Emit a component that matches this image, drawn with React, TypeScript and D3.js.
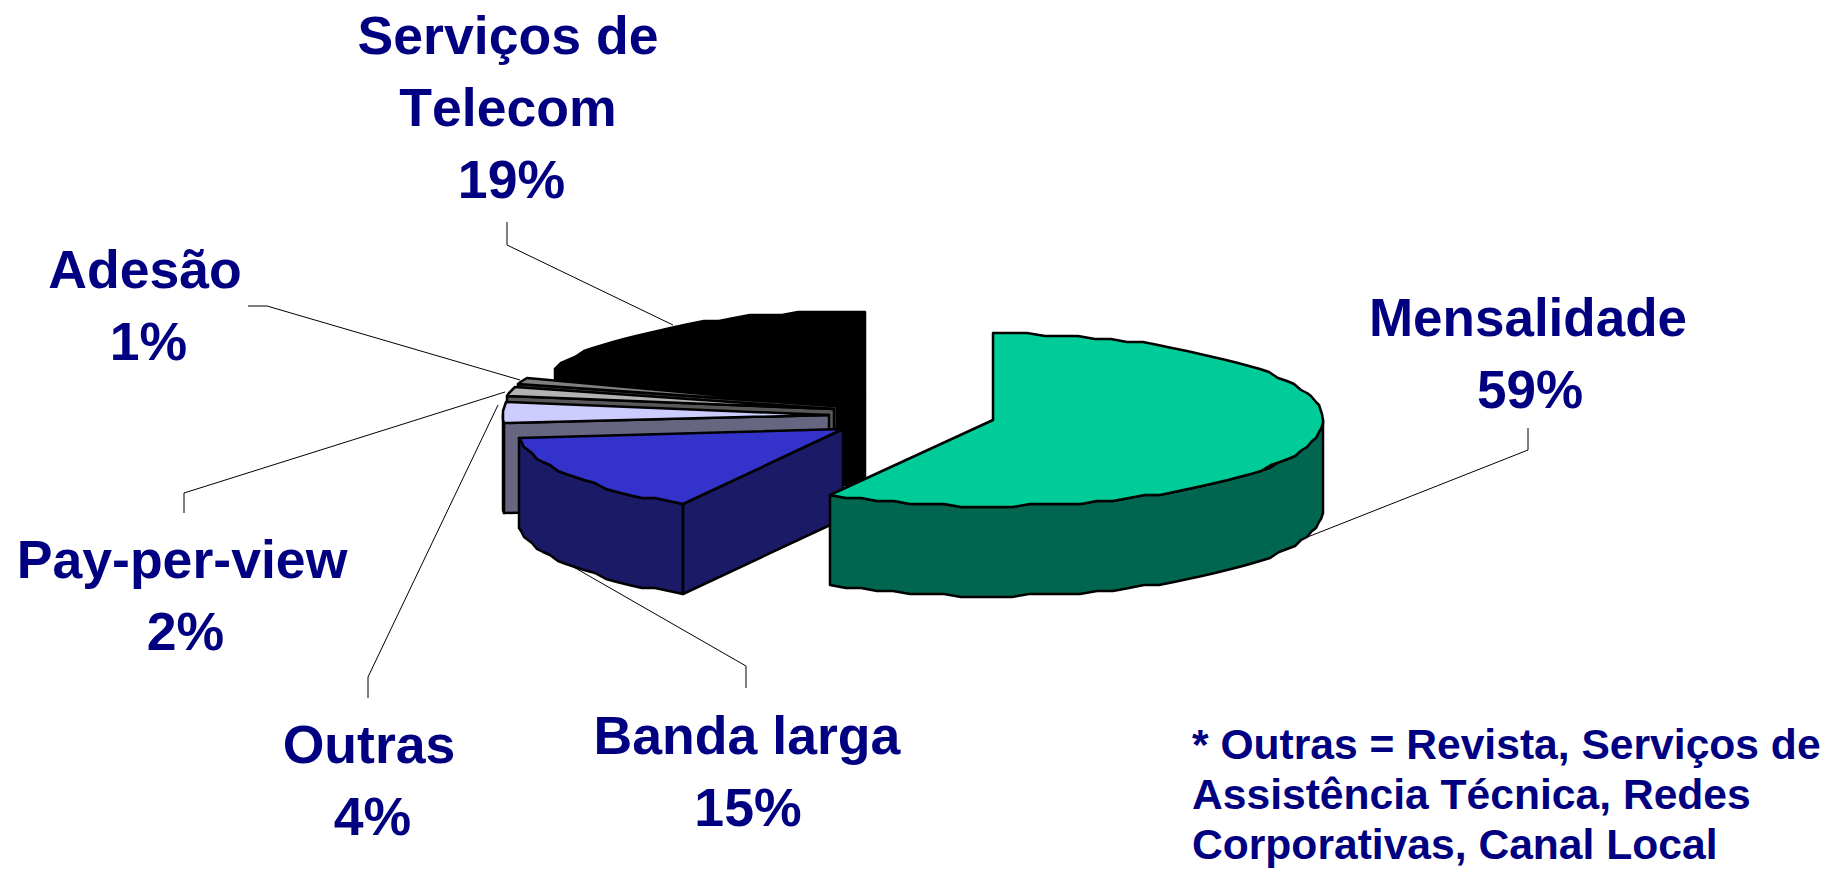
import React from "react";
import * as d3 from "d3";

const categories = ["Mensalidade", "Banda larga", "Outras", "Pay-per-view", "Adesão", "Serviços de Telecom"];
const values = [58.2, 15.3, 3.7, 1.9, 1.4, 19.5];
const topColors = ["#00CC99", "#3333CC", "#CCCCFF", "#B2B2B2", "#808080", "#000000"];
const sideColors = ["#006650", "#1A1A66", "#666680", "#595959", "#404040", "#000000"];
const apexX = [993, 843, 829, 834, 837, 865];
const apexY = [420, 429, 415, 409, 406, 397];
const radiusX = [330, 325, 326, 330, 330, 330];
const labelLines = [["Mensalidade", "59%"], ["Banda larga", "15%"], ["Outras", "4%"], ["Pay-per-view", "2%"], ["Adesão", "1%"], ["Serviços de", "Telecom", "19%"]];
const labelX = [1528, 747, 369, 182, 145, 508];
const labelDx = [2, 1, 3.5, 3.5, 3.5, 3.5];
const labelY = [336, 754, 763, 578, 288, 54];
const labelSize = [53, 53.6, 53.6, 53.6, 53.6, 53.6];
const leaders = [
  [[1300, 540], [1528, 450], [1528, 428]],
  [[570, 565], [746, 666], [746, 688]],
  [[498, 405], [368, 677], [368, 698]],
  [[505, 392], [184, 493], [184, 513]],
  [[520, 380], [267, 306], [248, 306]],
  [[673, 325], [507, 245], [507, 222]],
];
const footnote = ["* Outras = Revista, Serviços de", "Assistência Técnica, Redes", "Corporativas, Canal Local"];

const RY = 86, DEPTH = 90;
const pie = d3.pie<number>().sort(null)(values);
const HALF = Math.PI / 2;

function rim(i: number, a0: number, a1: number, dy: number, q = 3): [number, number][] {
  const n = Math.max(2, Math.ceil(((a1 - a0) * 180) / Math.PI / 3));
  return d3.range(n + 1).map((k) => {
    const a = a0 + ((a1 - a0) * k) / n;
    const x = apexX[i] + radiusX[i] * Math.sin(a);
    const y = apexY[i] - RY * Math.cos(a);
    return [Math.round(x), Math.round(y / q) * q + dy] as [number, number];
  });
}
const line = d3.line();

export default function App() {
  const order = [5, 4, 3, 2, 1, 0];
  return (
    <svg width={1827} height={869} style={{ position: "absolute", left: 0, top: 0, background: "#fff" }}>
      {leaders.map((l, i) => (
        <path key={i} d={line(l as [number, number][])!} fill="none" stroke="#000" strokeWidth={1} />
      ))}
      {order.map((i) => {
        const { startAngle: a0, endAngle: a1 } = pie[i];
        const top = rim(i, a0, a1, 0);
        const cx = apexX[i], cy = apexY[i];
        // the cut face at the start of a slice only faces the viewer in the left half
        const face: [number, number][] | null = a0 > Math.PI
          ? [[cx, cy], top[0], [top[0][0], top[0][1] + DEPTH], [cx, cy + DEPTH]]
          : null;
        // outer wall: only the front half of the rim faces the viewer
        const w0 = Math.max(a0, HALF), w1 = Math.min(a1, 3 * HALF);
        const wall: [number, number][] | null = w1 > w0
          ? [...rim(i, w0, w1, 0), ...rim(i, w0, w1, DEPTH).reverse()]
          : null;
        return (
          <g key={i} stroke="#000" strokeWidth={2.5} strokeLinejoin="round">
            {wall && <path d={line(wall)! + "Z"} fill={sideColors[i]} />}
            {face && <path d={line(face)! + "Z"} fill={sideColors[i]} />}
            <path d={line([[cx, cy], ...top])! + "Z"} fill={topColors[i]} />
          </g>
        );
      })}
      <g fontFamily="'Liberation Sans', Arial, sans-serif" fontWeight="bold" fill="#000080" textAnchor="middle" style={{ fontKerning: "none" }}>
        {labelLines.map((ls, i) => (
          <text key={categories[i]} y={labelY[i]} fontSize={labelSize[i]}>
            {ls.map((t, k) => (
              <tspan key={k} x={labelX[i] + (k === ls.length - 1 ? labelDx[i] : 0)} dy={k === 0 ? 0 : 72}>{t}</tspan>
            ))}
          </text>
        ))}
      </g>
      <g fontFamily="'Liberation Sans', Arial, sans-serif" fontWeight="bold" fill="#000080" fontSize={42.6}>
        {footnote.map((t, k) => (
          <text key={k} x={1192} y={759 + k * 50}>{t}</text>
        ))}
      </g>
    </svg>
  );
}
